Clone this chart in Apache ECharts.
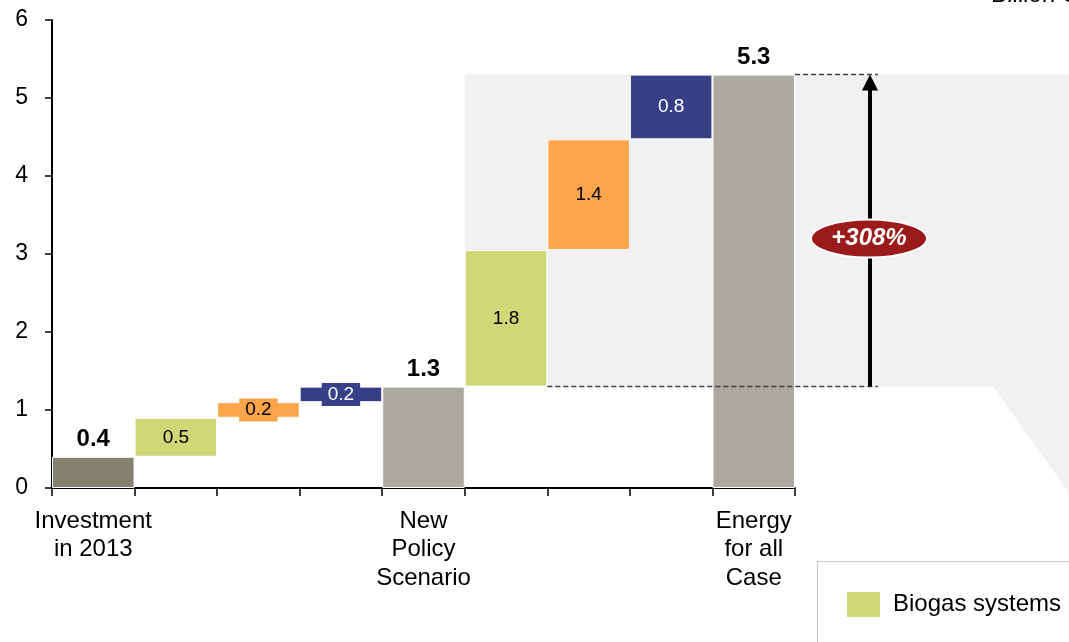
<!DOCTYPE html>
<html>
<head>
<meta charset="utf-8">
<script src="https://cdn.jsdelivr.net/npm/echarts@6/dist/echarts.min.js"></script>
<style>
  html, body { margin: 0; padding: 0; background: #fff; }
  #chart { width: 1069px; height: 642px; }
</style>
</head>
<body>
<div id="chart"></div>
<script>
// categories of the waterfall (left to right)
const categories = ['Investment in 2013', 'NPS biogas', 'NPS cookstoves', 'NPS LPG',
  'New Policy Scenario', 'EAC biogas', 'EAC cookstoves', 'EAC LPG', 'Energy for all Case'];
// only the totals carry an axis label
const tickLabels = ['Investment\nin 2013', '', '', '', 'New\nPolicy\nScenario', '', '', '', 'Energy\nfor all\nCase'];
const yTicks = [0, 1, 2, 3, 4, 5, 6];

// billion USD
const totals = [0.4, '-', '-', '-', 1.3, '-', '-', '-', 5.3];
const biogas = ['-', 0.5, '-', '-', '-', 1.75, '-', '-', '-'];
const cookstoves = ['-', '-', 0.2, '-', '-', '-', 1.42, '-', '-'];
const lpg = ['-', '-', '-', 0.2, '-', '-', '-', 0.83, '-'];
const growthLabel = '+308%';

// invisible base for the floating steps
let running = 0;
const base = categories.map(function (c, i) {
  if (totals[i] !== '-') { running = totals[i]; return 0; }
  const step = [biogas[i], cookstoves[i], lpg[i]].find(v => v !== '-');
  const b = running;
  running += step;
  return b;
});

const FONT = 'Liberation Sans, Arial, sans-serif';

function stepSeries(name, data, color, textColor) {
  return {
    name: name,
    type: 'bar',
    stack: 'w',
    data: data,
    barCategoryGap: '0%',
    itemStyle: { color: color, borderColor: '#fff', borderWidth: 1 },
    label: {
      show: true,
      position: 'inside',
      formatter: p => p.value.toFixed(1),
      fontFamily: FONT,
      fontSize: 19,
      color: textColor,
      backgroundColor: color,
      padding: [2, 6]
    }
  };
}

const chart = echarts.init(document.getElementById('chart'));

chart.setOption({
  animation: false,
  grid: { left: 52, right: 274, top: 20, bottom: 154 },
  legend: {
    data: ['Biogas systems'],
    left: 845, top: 590,
    padding: 0,
    itemWidth: 35, itemHeight: 27,
    icon: 'rect',
    textStyle: { fontFamily: FONT, fontSize: 24, color: '#000', padding: [0, 0, 0, 7] }
  },
  xAxis: {
    type: 'category',
    data: categories,
    axisLine: { lineStyle: { color: '#000', width: 2 } },
    axisTick: { show: true, length: 8, lineStyle: { color: '#000', width: 1.5 } },
    axisLabel: {
      interval: 0,
      formatter: (v, i) => tickLabels[i],
      fontFamily: FONT, fontSize: 24, lineHeight: 28.5, color: '#000', margin: 19
    }
  },
  yAxis: {
    type: 'value',
    min: yTicks[0], max: yTicks[yTicks.length - 1], interval: 1,
    splitLine: { show: false },
    axisLine: { show: true, lineStyle: { color: '#000', width: 2 } },
    axisTick: { show: true, length: 7, lineStyle: { color: '#000', width: 1.5 } },
    axisLabel: { fontFamily: FONT, fontSize: 23, color: '#000', margin: 24 }
  },
  series: [
    {
      name: 'base', type: 'bar', stack: 'w', data: base,
      barCategoryGap: '0%',
      itemStyle: { color: 'transparent' }, silent: true
    },
    {
      name: 'Total', type: 'bar', stack: 'w', data: totals,
      barCategoryGap: '0%',
      itemStyle: {
        color: p => p.dataIndex === 0 ? '#858170' : '#aca9a1',
        borderColor: '#fff', borderWidth: 1
      },
      label: {
        show: true, position: 'top', distance: 5,
        formatter: p => p.value.toFixed(1),
        fontFamily: FONT, fontSize: 24, fontWeight: 'bold', color: '#000'
      }
    },
    stepSeries('Biogas systems', biogas, '#cfd877', '#000'),
    stepSeries('Improved cookstoves', cookstoves, '#fba44a', '#000'),
    stepSeries('LPG', lpg, '#374087', '#fff')
  ]
});

// annotations positioned from the axes
const px = (i, v) => chart.convertToPixel({ xAxisIndex: 0, yAxisIndex: 0 }, [i, v]);
const bw = px(1, 0)[0] - px(0, 0)[0];
const last = categories.length - 1;
const topY = px(last, totals[last])[1];
const midY = px(4, totals[4])[1];
const zeroY = px(0, 0)[1];
const regionLeft = px(4, 0)[0] + bw / 2;
const gridRight = px(last, 0)[0] + bw / 2;
const arrowX = gridRight + 75;

chart.setOption({
  graphic: [
    {
      type: 'polygon', z: 0,
      shape: { points: [[regionLeft, topY], [1069, topY], [1069, zeroY + 5], [gridRight + 198, midY], [regionLeft, midY]] },
      style: { fill: '#f1f1f1' }
    },
    {
      type: 'line', z: 10,
      shape: { x1: gridRight, y1: topY, x2: arrowX + 8, y2: topY },
      style: { stroke: '#404040', lineWidth: 1.5, lineDash: [5, 3] }
    },
    {
      type: 'line', z: 10,
      shape: { x1: px(5, 0)[0] + bw / 2, y1: midY, x2: arrowX + 8, y2: midY },
      style: { stroke: '#404040', lineWidth: 1.5, lineDash: [5, 3] }
    },
    {
      type: 'line', z: 11,
      shape: { x1: arrowX, y1: midY, x2: arrowX, y2: topY + 14 },
      style: { stroke: '#000', lineWidth: 4 }
    },
    {
      type: 'polygon', z: 11,
      shape: { points: [[arrowX, topY], [arrowX - 8, topY + 16], [arrowX + 8, topY + 16]] },
      style: { fill: '#000' }
    },
    {
      type: 'ellipse', z: 12,
      shape: { cx: arrowX - 1, cy: (topY + midY) / 2 + 8, rx: 58, ry: 19 },
      style: { fill: '#9b1a1a', stroke: '#fff', lineWidth: 2 }
    },
    {
      type: 'text', z: 13,
      x: arrowX - 1, y: (topY + midY) / 2 + 8,
      style: {
        text: growthLabel, fill: '#fff', fontFamily: FONT, fontSize: 24,
        fontWeight: 'bold', fontStyle: 'italic', align: 'center', verticalAlign: 'middle'
      }
    },
    {
      type: 'text', z: 13, x: 991, y: 7,
      style: { text: 'Billion USD', fill: '#000', fontFamily: FONT, fontSize: 24, verticalAlign: 'bottom' }
    },
    {
      type: 'rect', z: 0,
      shape: { x: 817.5, y: 561.5, width: 300, height: 120 },
      style: { fill: '#fff', stroke: '#c8c8c8', lineWidth: 1 }
    }
  ]
});
</script>
</body>
</html>
